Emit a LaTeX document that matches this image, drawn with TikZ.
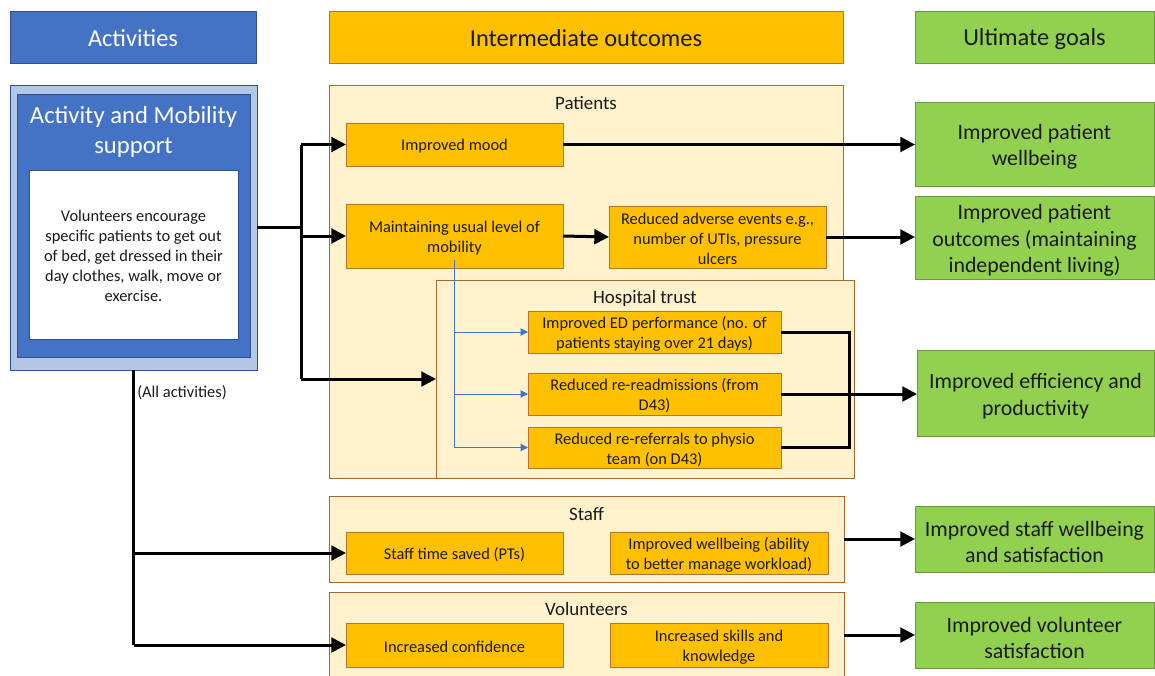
\documentclass[tikz,border=0pt]{standalone}
\usepackage{fontspec}
\setmainfont{Carlito}
\usetikzlibrary{arrows.meta,calc}
\definecolor{dblue}{HTML}{4472C4}
\definecolor{dbluebd}{HTML}{2F528F}
\definecolor{lblue}{HTML}{B4C7E7}
\definecolor{orng}{HTML}{FFC000}
\definecolor{orngbd}{HTML}{B8742C}
\definecolor{pale}{HTML}{FFF2CC}
\definecolor{palebd}{HTML}{A8682E}
\definecolor{grn}{HTML}{92D050}
\definecolor{grnbd}{HTML}{6A9A3C}
\definecolor{txt}{HTML}{1A1A1A}
% style, name, x1, y1, x2, y2, text shift (px, down), text
\newcommand\mkbox[8]{%
  \node[#1, minimum width={(#5-#3)*0.75pt}, minimum height={(#6-#4)*0.75pt}] (#2) at ({(#3+#5)/2},{(#4+#6)/2}) {};
  \node[#1, draw=none, fill=none, minimum width=0pt, minimum height=0pt] (#2-t) at ({(#3+#5)/2},{(#4+#6)/2+#7}) {#8};}
\tikzset{
  x=0.75pt, y=-0.75pt,
  every node/.style={inner sep=0pt, outer sep=0pt, text=txt},
  hdr/.style={draw, line width=0.75pt, align=center, font=\fontsize{18.3}{22}\selectfont},
  ibox/.style={draw=orngbd, fill=orng, line width=0.75pt, align=center, font=\fontsize{12.3}{15}\selectfont},
  panel/.style={draw=palebd, fill=pale, line width=0.75pt},
  gbox/.style={draw=grnbd, fill=grn, line width=0.75pt, align=center, font=\fontsize{16.4}{19.8}\selectfont},
  lbl/.style={font=\fontsize{14.2}{17}\selectfont},
  small/.style={font=\fontsize{12.3}{15}\selectfont, align=center},
  conn/.style={line width=2.25pt, draw=black},
  arr/.style={conn, -{Triangle[length=11pt,width=11pt]}},
  barr/.style={draw=dblue, line width=0.75pt, -{Triangle[length=5.5pt,width=5.5pt]}},
}
\begin{document}
\begin{tikzpicture}
\useasboundingbox (0,0) rectangle (1155,675);
\clip (0,0) rectangle (1155,675);
\fill[white] (0,0) rectangle (1155,675);
% headers
\mkbox{hdr, fill=dblue, draw=dbluebd, text=white}{hact}{10}{11}{256}{63}{1.5}{Activities}
\mkbox{hdr, fill=orng, draw=orngbd}{hint}{329}{11}{843}{63}{1.5}{Intermediate outcomes}
\mkbox{hdr, fill=grn, draw=grnbd}{hult}{915}{11}{1154}{63}{2.5}{Ultimate goals}
% activity box
\mkbox{draw=dbluebd, fill=lblue, line width=0.75pt}{actout}{10}{85}{257}{370}{0}{}
\mkbox{draw=dbluebd, fill=dblue, line width=0.75pt}{actin}{17}{94}{250}{357}{0}{}
\node[text=white, align=center, font=\fontsize{18.5}{22.5}\selectfont] (amtitle) at (133.5,132) {Activity and Mobility\\support};
\mkbox{draw=dbluebd, fill=white, line width=0.75pt, align=center, font=\fontsize{12.3}{15}\selectfont}{actwhite}{29}{170}{238}{339}{1.5}{Volunteers encourage\\specific patients to get out\\of bed, get dressed in their\\day clothes, walk, move or\\exercise.}
\node[small] (allact) at (182,393) {(All activities)};
% panels
\mkbox{panel}{patp}{329}{85}{843}{478}{0}{}
\node[lbl] (plab) at (586,103) {Patients};
\mkbox{panel}{hosp}{436}{280}{854}{478}{0}{}
\node[lbl] (hlab) at (645,298) {Hospital trust};
\mkbox{panel}{staffp}{329}{496}{844}{582}{0}{}
\node[lbl] (slab) at (586.5,514) {Staff};
\mkbox{panel}{volp}{329}{592}{844}{700}{0}{}
\node[lbl] (vlab) at (586.5,609) {Volunteers};
% intermediate boxes
\mkbox{ibox}{mood}{346}{123}{563}{166}{2}{Improved mood}
\mkbox{ibox}{mob}{346}{204}{563}{268}{2}{Maintaining usual level of\\mobility}
\mkbox{ibox}{adv}{609}{206}{826}{268}{2}{Reduced adverse events e.g.,\\number of UTIs, pressure\\ulcers}
\mkbox{ibox}{ed}{528}{311}{781}{353}{2}{Improved ED performance (no. of\\patients staying over 21 days)}
\mkbox{ibox}{readm}{528}{373}{781}{415}{2}{Reduced re-readmissions (from\\D43)}
\mkbox{ibox}{ref}{528}{427}{781}{468}{2}{Reduced re-referrals to physio\\team (on D43)}
\mkbox{ibox}{sts}{346}{532}{563}{574}{2}{Staff time saved (PTs)}
\mkbox{ibox}{swb}{610}{532}{828}{574}{2}{Improved wellbeing (ability\\to better manage workload)}
\mkbox{ibox}{conf}{346}{623}{563}{667}{2}{Increased confidence}
\mkbox{ibox}{skills}{610}{623}{828}{667}{2}{Increased skills and\\knowledge}
% goals
\mkbox{gbox}{g1}{915}{102}{1154}{186}{3}{Improved patient\\wellbeing}
\mkbox{gbox}{g2}{915}{196}{1154}{279}{3}{Improved patient\\outcomes (maintaining\\independent living)}
\mkbox{gbox}{g3}{917}{350}{1154}{436}{3}{Improved efficiency and\\productivity}
\mkbox{gbox}{g4}{915}{506}{1154}{572}{3}{Improved staff wellbeing\\and satisfaction}
\mkbox{gbox}{g5}{915}{602}{1154}{668}{3}{Improved volunteer\\satisfaction}
% connectors from activity
\coordinate (jx) at (301,227.5);
\draw[conn] (actout.east) -- (jx);
\draw[conn] (jx |- mood.west) -- (jx |- hosp.west);
\draw[arr] (jx |- mood.west) -- (mood.west);
\draw[arr] (jx |- mob.west) -- (mob.west);
\draw[arr] (jx |- hosp.west) -- (hosp.west);
\draw[conn] (actout.south) -- (actout.south |- conf.west);
\draw[arr] (actout.south |- sts.west) -- (sts.west);
\draw[arr] (actout.south |- conf.west) -- (conf.west);
% patients
\draw[arr] (mood.east) -- (mood.east -| g1.west);
\draw[arr] (mob.east) -- (adv.west);
\draw[arr] (adv.east) -- (adv.east -| g2.west);
% hospital trust
\coordinate (bx) at (849,0);
\draw[conn] (ed.east) -| (bx |- ref.east) -- (ref.east);
\draw[arr] (readm.east) -- (readm.east -| g3.west);
\coordinate (bs) at (454.5,260);
\draw[barr] (bs) |- (ed.west);
\draw[barr] (bs) |- (readm.west);
\draw[barr] (bs) |- (ref.west);
% staff, volunteers
\draw[arr] (staffp.east |- g4.west) -- (g4.west);
\draw[arr] (volp.east |- g5.west) -- (g5.west);
\end{tikzpicture}
\end{document}
